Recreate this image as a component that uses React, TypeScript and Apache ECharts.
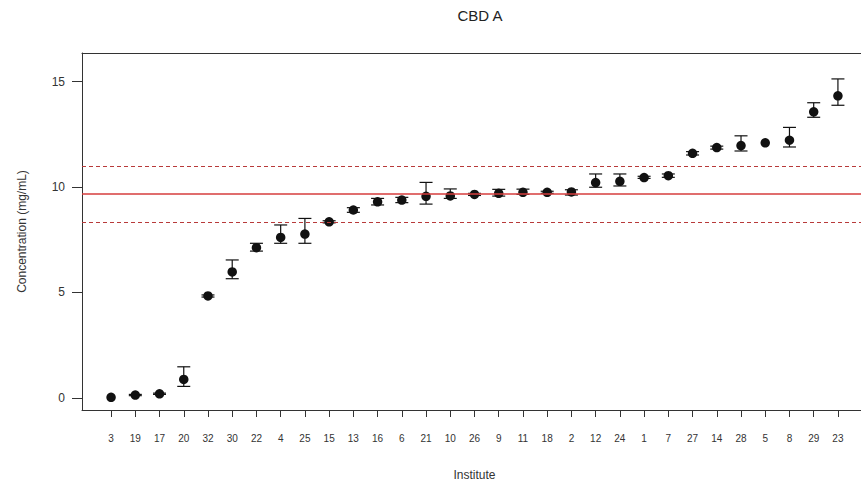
import React, { useEffect, useRef } from "react";
import * as echarts from "echarts";

const institutes = ["3","19","17","20","32","30","22","4","25","15","13","16","6","21","10","26","9","11","18","2","12","24","1","7","27","14","28","5","8","29","23"];
const means = [0.02, 0.13, 0.19, 0.87, 4.83, 5.97, 7.12, 7.61, 7.77, 8.35, 8.91, 9.30, 9.38, 9.56, 9.58, 9.65, 9.70, 9.75, 9.75, 9.77, 10.21, 10.27, 10.45, 10.54, 11.60, 11.87, 11.97, 12.10, 12.22, 13.57, 14.33];
const lows = [0.02, 0.10, 0.16, 0.54, 4.78, 5.65, 6.96, 7.33, 7.33, 8.30, 8.80, 9.15, 9.26, 9.19, 9.46, 9.60, 9.57, 9.65, 9.70, 9.62, 9.99, 10.05, 10.41, 10.46, 11.52, 11.80, 11.71, 12.10, 11.90, 13.31, 13.88];
const highs = [0.02, 0.16, 0.22, 1.47, 4.88, 6.54, 7.33, 8.20, 8.51, 8.40, 9.02, 9.46, 9.51, 10.22, 9.91, 9.70, 9.89, 9.90, 9.80, 9.87, 10.62, 10.62, 10.51, 10.62, 11.68, 11.94, 12.43, 12.10, 12.83, 14.00, 15.13];
const refMean = 9.66;
const refUpper = 10.99;
const refLower = 8.35;
const yTicks = [0, 5, 10, 15];

export default function App() {
  const ref = useRef<HTMLDivElement>(null);
  useEffect(() => {
    document.body.style.margin = "0";
    document.body.style.overflow = "hidden";
    const chart = echarts.init(ref.current!, null, { renderer: "svg" });
    const idx = institutes.map((_, i) => i);
    const font = "Liberation Sans, Arial, sans-serif";
    const frame = { show: true, onZero: false, lineStyle: { color: "#333", width: 1 } };
    chart.setOption({
      animation: false,
      backgroundColor: "#ffffff",
      title: {
        text: "CBD A",
        left: 475,
        top: 3,
        textAlign: "center",
        textStyle: { fontFamily: "Liberation Sans Narrow, Liberation Sans, Arial, sans-serif", fontSize: 15, fontWeight: "normal", color: "#222" },
      },
      grid: {
        left: 82,
        top: 53,
        width: 785,
        height: 357,
        outerBoundsMode: "none",
        containLabel: false,
        show: false,
      },
      xAxis: [
        {
          type: "value",
          min: -1.2,
          max: 31.2,
          position: "bottom",
          name: "Institute",
          nameLocation: "middle",
          nameGap: 59,
          nameTextStyle: { fontFamily: font, fontSize: 12, color: "#333" },
          axisLine: frame,
          splitLine: { show: false },
          axisTick: {
            show: true,
            customValues: idx,
            length: 7,
            lineStyle: { color: "#333", width: 1 },
          },
          axisLabel: {
            customValues: idx,
            margin: 23,
            fontFamily: font,
            fontSize: 10,
            color: "#333",
            formatter: (v: number) => institutes[Math.round(v)] ?? "",
          },
        },
        {
          type: "value",
          min: -1.2,
          max: 31.2,
          position: "top",
          axisLine: frame,
          axisTick: { show: false },
          axisLabel: { show: false },
          splitLine: { show: false },
        },
      ],
      yAxis: {
        type: "value",
        min: -0.58,
        max: 16.36,
        position: "left",
        name: "Concentration (mg/mL)",
        nameLocation: "middle",
        nameGap: 54,
        nameRotate: 90,
        nameTextStyle: { fontFamily: font, fontSize: 12, color: "#333" },
        axisLine: frame,
        splitLine: { show: false },
        axisTick: {
          show: true,
          customValues: yTicks,
          length: 10,
          lineStyle: { color: "#333", width: 1 },
        },
        axisLabel: {
          customValues: yTicks,
          margin: 17,
          fontFamily: font,
          fontSize: 12,
          color: "#333",
        },
      },
      series: [
        {
          type: "line",
          data: [],
          markLine: {
            silent: true,
            symbol: "none",
            label: { show: false },
            data: [
              { yAxis: refMean, lineStyle: { color: "#d63c3c", width: 1.5, type: "solid" } },
              { yAxis: refUpper, lineStyle: { color: "#b83a3a", width: 1.2, type: [4, 3] } },
              { yAxis: refLower, lineStyle: { color: "#b83a3a", width: 1.2, type: [4, 3] } },
            ],
          },
        },
        {
          type: "custom",
          data: idx.map((i) => [i, lows[i], highs[i]]),
          encode: { x: 0, y: [1, 2] },
          z: 3,
          renderItem: (params: any, api: any) => {
            const x = api.value(0);
            const lo = api.value(1);
            const hi = api.value(2);
            if (hi - lo < 0.001) return { type: "group", children: [] };
            const pLo = api.coord([x, lo]);
            const pHi = api.coord([x, hi]);
            const hw = 6.5;
            const style = { stroke: "#111", lineWidth: 1.2 };
            return {
              type: "group",
              children: [
                { type: "line", shape: { x1: pLo[0], y1: pLo[1], x2: pHi[0], y2: pHi[1] }, style },
                { type: "line", shape: { x1: pLo[0] - hw, y1: pLo[1], x2: pLo[0] + hw, y2: pLo[1] }, style },
                { type: "line", shape: { x1: pHi[0] - hw, y1: pHi[1], x2: pHi[0] + hw, y2: pHi[1] }, style },
              ],
            };
          },
        },
        {
          type: "scatter",
          data: idx.map((i) => [i, means[i]]),
          symbol: "circle",
          symbolSize: 9.5,
          itemStyle: { color: "#111", opacity: 1 },
          z: 4,
        },
      ],
    });
    return () => chart.dispose();
  }, []);
  return <div ref={ref} style={{ width: 861, height: 483, overflow: "hidden" }} />;
}
